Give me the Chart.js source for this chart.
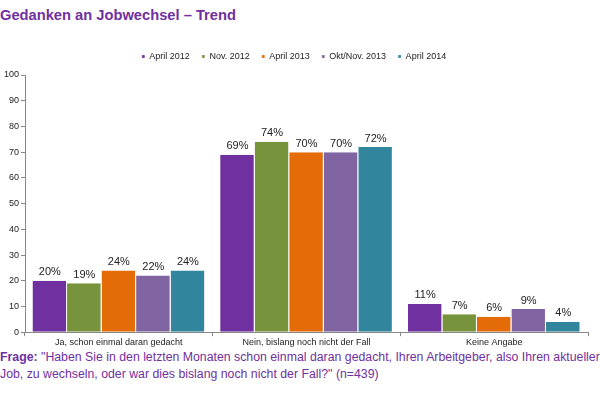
<!DOCTYPE html>
<html>
<head>
<meta charset="utf-8">
<script src="https://cdn.jsdelivr.net/npm/chart.js@4/dist/chart.umd.min.js"></script>
<style>
  body { margin: 0; background: #fff; font-family: Arial, "Liberation Sans", sans-serif; }
  #wrap { position: relative; width: 600px; height: 395px; overflow: hidden; }
  #title { position: absolute; left: 0; top: 7px; font-size: 14.7px; font-weight: bold; color: #7030a0; }
  #chartBox { position: absolute; left: 0; top: 0; width: 600px; height: 349px; }
  #note { position: absolute; left: 0; top: 349px; font-size: 12.3px; line-height: 17px; color: #7030a0; white-space: nowrap; }
  #note b { font-weight: bold; }
</style>
</head>
<body>
<div id="wrap">
  <div id="title">Gedanken an Jobwechsel – Trend</div>
  <div id="chartBox"><canvas id="c"></canvas></div>
  <div id="note"><b>Frage:</b> "Haben Sie in den letzten Monaten schon einmal daran gedacht, Ihren Arbeitgeber, also Ihren aktueller<br>Job, zu wechseln, oder war dies bislang noch nicht der Fall?" (n=439)</div>
</div>
<script>
// categories and survey waves
const categories = ['Ja, schon einmal daran gedacht', 'Nein, bislang noch nicht der Fall', 'Keine Angabe'];
const waves = ['April 2012', 'Nov. 2012', 'April 2013', 'Okt/Nov. 2013', 'April 2014'];
const colors = ['#7030a0', '#77933c', '#e36c09', '#8064a2', '#31859c'];

// percent values per wave
const april2012 = [20, 69, 11];
const nov2012 = [19, 74, 7];
const april2013 = [24, 70, 6];
const oktNov2013 = [22, 70, 9];
const april2014 = [24, 72, 4];
const series = [april2012, nov2012, april2013, oktNov2013, april2014];

const yTicks = [0, 10, 20, 30, 40, 50, 60, 70, 80, 90, 100];

const FONT = 'Arial, "Liberation Sans", sans-serif';

// a bit more room under the legend
const legendGap = {
  id: 'legendGap',
  beforeInit( chart ) {
    const fit = chart.legend.fit;
    chart.legend.fit = function() {
      fit.bind( chart.legend )();
      this.height += 4;
    };
  }
};

// draw the "nn%" labels above each bar
const valueLabels = {
  id: 'valueLabels',
  afterDatasetsDraw( chart ) {
    const ctx = chart.ctx;
    ctx.save();
    ctx.font = '11px ' + FONT;
    ctx.fillStyle = '#222';
    ctx.textAlign = 'center';
    ctx.textBaseline = 'bottom';
    chart.data.datasets.forEach( ( ds, i ) => {
      chart.getDatasetMeta( i ).data.forEach( ( bar, j ) => {
        ctx.fillText( ds.data[ j ] + '%', bar.x, bar.y - 3 );
      } );
    } );
    ctx.restore();
  }
};

new Chart( document.getElementById( 'c' ), {
  type: 'bar',
  data: {
    labels: categories,
    datasets: waves.map( ( w, i ) => ( {
      label: w,
      data: series[ i ],
      backgroundColor: colors[ i ],
      borderColor: '#ffffff',
      borderWidth: { left: 0, right: 1, top: 0, bottom: 0 },
      borderSkipped: false,
      categoryPercentage: 0.92,
      barPercentage: 1
    } ) )
  },
  options: {
    responsive: true,
    maintainAspectRatio: false,
    animation: false,
    layout: { padding: { top: 40, left: 0, right: 12, bottom: 0 } },
    plugins: {
      legend: {
        position: 'top',
        labels: {
          font: { size: 9, family: FONT },
          color: '#222',
          boxWidth: 3,
          boxHeight: 3,
          padding: 12
        }
      },
      tooltip: { enabled: false }
    },
    scales: {
      x: {
        grid: { display: true, drawOnChartArea: false, offset: true, tickLength: 4, color: '#888' },
        border: { color: '#888' },
        ticks: { font: { size: 9, family: FONT }, color: '#222', padding: 1, maxRotation: 0 }
      },
      y: {
        min: 0,
        max: 100,
        afterFit( scale ) { scale.width = 25; },
        afterBuildTicks( scale ) { scale.ticks = yTicks.map( v => ( { value: v } ) ); },
        grid: { drawOnChartArea: false, tickLength: 4, color: '#888' },
        border: { color: '#888' },
        ticks: { font: { size: 9, family: FONT }, color: '#222', padding: 2 }
      }
    }
  },
  plugins: [ legendGap, valueLabels ]
} );
</script>
</body>
</html>
